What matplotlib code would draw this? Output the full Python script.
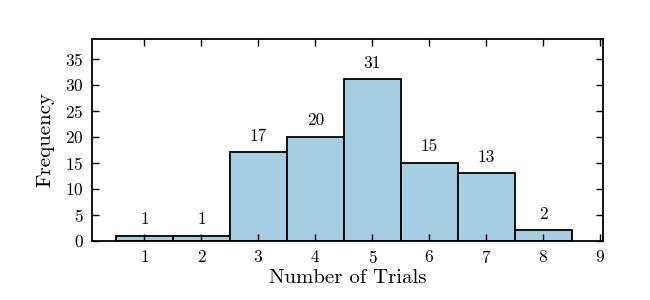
import matplotlib.pyplot as plt

plt.rcParams['font.family'] = 'cmr10'
plt.rcParams['mathtext.fontset'] = 'cm'
plt.rcParams['axes.formatter.use_mathtext'] = True

trials = [1, 2, 3, 4, 5, 6, 7, 8]
freq = [1, 1, 17, 20, 31, 15, 13, 2]
xticks = [1, 2, 3, 4, 5, 6, 7, 8, 9]
yticks = [0, 5, 10, 15, 20, 25, 30, 35]

fig = plt.figure(figsize=(6.5, 3), dpi=100)
ax = fig.add_axes([0.1415, 0.197, 0.7865, 0.673])

bars = ax.bar(trials, freq, width=1.0, color='#a6cee3', edgecolor='black', linewidth=1.3)
for x, v in zip(trials, freq):
    ax.annotate(str(v), (x, v), xytext=(0, 6), textcoords='offset points',
                ha='center', va='bottom', fontsize=12.5)

ax.set_xlim(0.08, 9.05)
ax.set_ylim(0, max(freq) * 1.25)
ax.set_xticks(xticks)
ax.set_yticks(yticks)
ax.tick_params(direction='in', top=True, right=True, length=5, width=1,
               labelsize=12.5, pad=6)
for s in ax.spines.values():
    s.set_linewidth(1.3)
ax.set_xlabel('Number of Trials', fontsize=15, labelpad=2)
ax.set_ylabel('Frequency', fontsize=15, labelpad=8)

fig.savefig('out.png', dpi=100)
